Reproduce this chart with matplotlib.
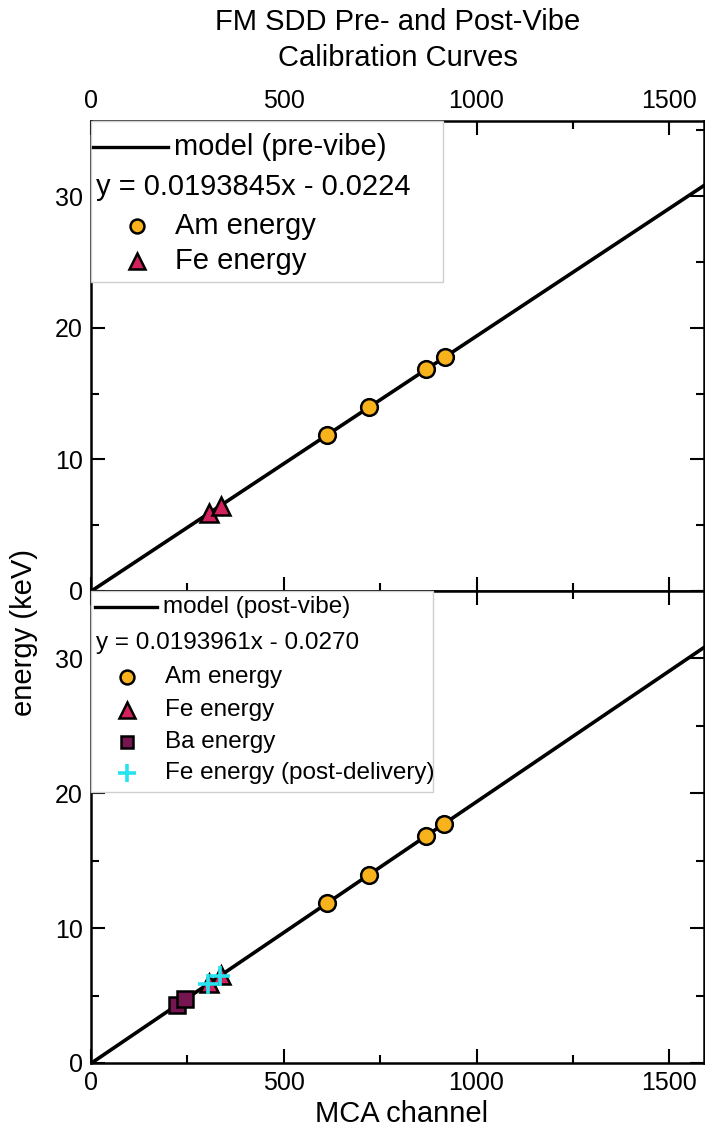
import matplotlib
matplotlib.use("Agg")
import matplotlib.pyplot as plt
import numpy as np
from matplotlib.patches import Rectangle
from matplotlib.lines import Line2D

plt.rcParams['font.family'] = ['Liberation Sans', 'DejaVu Sans']

# data
am_energy = [11.87, 13.95, 16.84, 17.75]
fe_energy = [5.90, 6.49]

pre_am_channel = [613, 721, 870, 917]
pre_fe_channel = [305, 336]
pre_slope, pre_icpt = 0.0193845, -0.0224

post_am_channel = [613, 720, 869, 916]
post_fe_channel = [305, 336]
post_ba_channel = [222, 245]
post_ba_energy = [4.28, 4.72]
post_fedel_channel = [303, 334]
post_fedel_energy = [5.86, 6.46]
post_slope, post_icpt = 0.0193961, -0.0270

x_ticks = [0, 500, 1000, 1500]
y_ticks = [0, 10, 20, 30]

c_am = '#F8B21C'
c_fe = '#D3205E'
c_ba = '#761650'
c_fed = '#27E3F0'

W, H = 705, 1145
fig = plt.figure(figsize=(W / 100, H / 100), dpi=100)


def px_axes(left, right, top, bottom):
    return fig.add_axes([left / W, 1 - bottom / H, (right - left) / W, (bottom - top) / H])


ax1 = px_axes(91, 704, 121, 591)
ax2 = px_axes(91, 704, 591, 1063)

xs = np.array([0, 1600])


def style(ax, ymax, top_labels):
    ax.set_xlim(0, 1590)
    ax.set_ylim(0, ymax)
    ax.set_xticks(x_ticks)
    ax.set_xticks([250, 750, 1250], minor=True)
    ax.set_yticks(y_ticks)
    ax.set_yticks([5, 15, 25, 35], minor=True)
    ax.tick_params(which='both', direction='in', top=True, right=True, width=1.5,
                   labelsize=18, labeltop=top_labels, labelbottom=not top_labels, pad=6)
    ax.tick_params(which='major', length=10)
    ax.tick_params(which='minor', length=6)
    for s in ax.spines.values():
        s.set_linewidth(1.8)


def draw_legend(ax, box, rows, fs, line_x, mark_x, text_x):
    # box: (x0, y0) lower-left, width, height in axes fraction
    x0, y0, w, h = box
    ax.add_patch(Rectangle((x0, y0), w, h, transform=ax.transAxes, facecolor='white',
                           edgecolor='#cfcfcf', lw=1, zorder=5, clip_on=False))
    for kind, y, label, kw in rows:
        if kind == 'line':
            ax.add_line(Line2D(line_x, [y, y], transform=ax.transAxes, color='black',
                               lw=2.4, zorder=6))
            ax.text(line_x[1] + 0.01, y, label, transform=ax.transAxes, fontsize=fs,
                    va='center', ha='left', zorder=6)
        elif kind == 'text':
            ax.text(0.008, y, label, transform=ax.transAxes, fontsize=fs,
                    va='center', ha='left', zorder=6)
        else:
            ax.add_line(Line2D([mark_x], [y], transform=ax.transAxes, linestyle='none',
                               zorder=6, **kw))
            ax.text(text_x, y, label, transform=ax.transAxes, fontsize=fs,
                    va='center', ha='left', zorder=6)


am_kw = dict(marker='o', ms=12, mfc=c_am, mec='black', mew=1.8)
fe_kw = dict(marker='^', ms=13, mfc=c_fe, mec='black', mew=1.8)
ba_kw = dict(marker='s', ms=11, mfc=c_ba, mec='black', mew=1.8)
fed_kw = dict(marker='+', ms=15, mec=c_fed, mew=2.6)

# smaller markers for the legend rows
am_leg = dict(am_kw, ms=10)
fe_leg = dict(fe_kw, ms=11)
ba_leg = dict(ba_kw, ms=9)
fed_leg = dict(fed_kw, ms=13)

# top panel: pre-vibe
style(ax1, 35.7, True)
ax1.plot(xs, pre_slope * xs + pre_icpt, color='black', lw=2.6, zorder=2)
ax1.plot(pre_fe_channel, fe_energy, linestyle='none', zorder=3, **fe_kw)
ax1.plot(pre_am_channel, am_energy, linestyle='none', zorder=3, **am_kw)


def fy(y, top, bottom):
    return (bottom - y) / (bottom - top)


def fx(x):
    return (x - 91) / 613


draw_legend(ax1, (0, fy(282, 121, 591), fx(443), 1 - fy(282, 121, 591)),
            [('line', fy(147, 121, 591), 'model (pre-vibe)', None),
             ('text', fy(187, 121, 591), 'y = 0.0193845x - 0.0224', None),
             ('mark', fy(226, 121, 591), 'Am energy', am_leg),
             ('mark', fy(261, 121, 591), 'Fe energy', fe_leg)],
            21, [fx(93), fx(168)], fx(137), fx(175))

# bottom panel: post-vibe
style(ax2, 34.0, False)
ax2.plot(xs, post_slope * xs + post_icpt, color='black', lw=2.6, zorder=2)
ax2.plot(post_ba_channel, post_ba_energy, linestyle='none', zorder=3, **ba_kw)
ax2.plot(post_fe_channel, fe_energy, linestyle='none', zorder=3, **fe_kw)
ax2.plot(post_am_channel, am_energy, linestyle='none', zorder=3, **am_kw)
ax2.plot(post_fedel_channel, post_fedel_energy, linestyle='none', zorder=4, **fed_kw)

draw_legend(ax2, (0, fy(792, 591, 1063), fx(433), 1 - fy(792, 591, 1063)),
            [('line', fy(607, 591, 1063), 'model (post-vibe)', None),
             ('text', fy(643, 591, 1063), 'y = 0.0193961x - 0.0270', None),
             ('mark', fy(677, 591, 1063), 'Am energy', am_leg),
             ('mark', fy(710, 591, 1063), 'Fe energy', fe_leg),
             ('mark', fy(742, 591, 1063), 'Ba energy', ba_leg),
             ('mark', fy(773, 591, 1063), 'Fe energy (post-delivery)', fed_leg)],
            17.5, [fx(95), fx(157)], fx(127), fx(165))

fig.text(398 / W, 1 - 40 / H, 'FM SDD Pre- and Post-Vibe\nCalibration Curves',
         ha='center', va='center', fontsize=21, linespacing=1.4)
fig.text(402 / W, 1 - 1114 / H, 'MCA channel', ha='center', va='center', fontsize=21)
fig.text(24 / W, 1 - 632 / H, 'energy (keV)', ha='center', va='center', fontsize=21,
         rotation=90)

fig.savefig('out.png', dpi=100)
